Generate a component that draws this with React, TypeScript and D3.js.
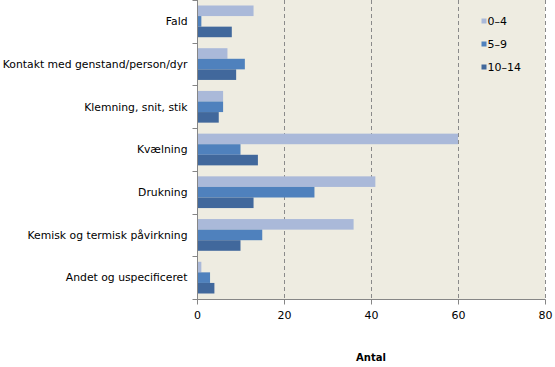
import React, { useEffect, useRef } from "react"
import * as d3 from "d3"

const categories = [
  "Fald",
  "Kontakt med genstand/person/dyr",
  "Klemning, snit, stik",
  "Kvælning",
  "Drukning",
  "Kemisk og termisk påvirkning",
  "Andet og uspecificeret",
]
const ageGroups = ["0–4", "5–9", "10–14"]
const age0to4 = [13, 7, 6, 60, 41, 36, 1]
const age5to9 = [1, 11, 6, 10, 27, 15, 3]
const age10to14 = [8, 9, 5, 14, 13, 10, 4]
const xTicks = [0, 20, 40, 60, 80]
const colors = ["#aab9d9", "#4f81bd", "#41689c"]

export default function App() {
  const ref = useRef<SVGSVGElement>(null)

  useEffect(() => {
    const svg = d3.select(ref.current)
    svg.selectAll("*").remove()
    const font = "DejaVu Sans, Verdana, sans-serif"

    const left = 197, right = 545, top = 0, bottom = 299
    const x = d3.scaleLinear().domain([0, 80]).range([left, right])
    const y = d3.scaleBand().domain(categories).range([top, bottom])
    const inner = d3.scaleBand().domain(ageGroups).range([0, y.bandwidth()]).paddingOuter(0.52)

    svg.append("rect")
      .attr("x", left).attr("y", top)
      .attr("width", right - left).attr("height", bottom - top)
      .attr("fill", "#eeece1")

    // stiplede gitterlinjer
    svg.selectAll(".grid")
      .data(xTicks.slice(1))
      .join("line")
      .attr("x1", d => x(d) + 0.5).attr("x2", d => x(d) + 0.5)
      .attr("y1", top).attr("y2", bottom)
      .attr("stroke", "#8a8a8a")
      .attr("stroke-dasharray", "4,3")

    const series = [age0to4, age5to9, age10to14]
    series.forEach((vals, si) => {
      svg.append("g").selectAll("rect")
        .data(vals)
        .join("rect")
        .attr("x", x(0))
        .attr("y", (d, i) => y(categories[i])! + inner(ageGroups[si])!)
        .attr("width", d => x(d) - x(0))
        .attr("height", inner.bandwidth())
        .attr("fill", colors[si])
    })

    // y akse
    const yAxis = svg.append("g").attr("transform", `translate(${left + 0.5},0)`)
    yAxis.append("line").attr("y1", top).attr("y2", bottom + 0.5).attr("stroke", "#868686")
    yAxis.selectAll(".tk")
      .data(d3.range(categories.length + 1))
      .join("line")
      .attr("x1", -5).attr("x2", 0)
      .attr("y1", i => Math.round(top + i * y.step()) + 0.5)
      .attr("y2", i => Math.round(top + i * y.step()) + 0.5)
      .attr("stroke", "#868686")
    yAxis.selectAll("text")
      .data(categories)
      .join("text")
      .attr("x", -10)
      .attr("y", d => y(d)! + y.bandwidth() / 2)
      .attr("dy", "0.35em")
      .attr("text-anchor", "end")
      .attr("font-family", font)
      .attr("font-size", 10.8)
      .attr("fill", "#000")
      .text(d => d)

    // x akse
    const xAxis = svg.append("g").attr("transform", `translate(0,${bottom + 0.5})`)
    xAxis.append("line").attr("x1", left).attr("x2", right + 0.5).attr("stroke", "#868686")
    xAxis.selectAll(".tk")
      .data(xTicks)
      .join("line")
      .attr("x1", d => x(d) + 0.5).attr("x2", d => x(d) + 0.5)
      .attr("y1", 0).attr("y2", 5)
      .attr("stroke", "#868686")
    xAxis.selectAll("text")
      .data(xTicks)
      .join("text")
      .attr("x", d => x(d) + 0.5)
      .attr("y", 19.5)
      .attr("text-anchor", "middle")
      .attr("font-family", font)
      .attr("font-size", 11)
      .text(d => d)

    svg.append("text")
      .attr("x", (left + right) / 2)
      .attr("y", 361)
      .attr("text-anchor", "middle")
      .attr("font-family", font)
      .attr("font-size", 10)
      .attr("font-weight", "bold")
      .text("Antal")

    // forklaring
    const lg = svg.append("g").attr("transform", "translate(481.5,21)")
    ageGroups.forEach((g, i) => {
      lg.append("rect").attr("x", 0).attr("y", i * 23 - 2.5).attr("width", 5).attr("height", 5).attr("fill", colors[i])
      lg.append("text")
        .attr("x", 6).attr("y", i * 23)
        .attr("dy", "0.35em")
        .attr("font-family", font)
        .attr("font-size", 11)
        .text(g)
    })
  }, [])

  return (
    <div style={{ position: "absolute", left: 0, top: 0 }}>
      <svg ref={ref} width={555} height={367} style={{ display: "block", background: "#fff" }} />
    </div>
  )
}
